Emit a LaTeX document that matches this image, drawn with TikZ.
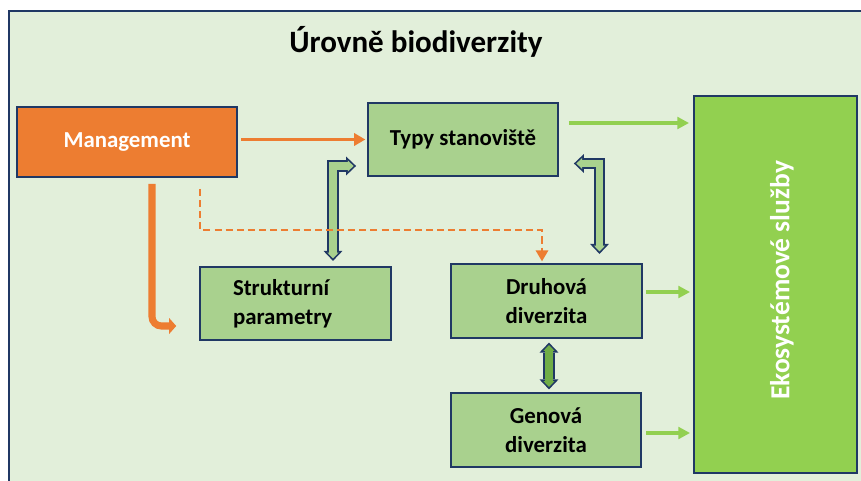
\documentclass[tikz,border=0pt]{standalone}
\usepackage{fontspec}
\setmainfont{Carlito}
\usetikzlibrary{arrows.meta,calc,positioning}

\definecolor{navy}{HTML}{203864}
\definecolor{bgreen}{HTML}{E2EFDA}
\definecolor{lgreen}{HTML}{A9D18E}
\definecolor{dgreen}{HTML}{70AD47}
\definecolor{egreen}{HTML}{92D050}
\definecolor{orng}{HTML}{ED7D31}

\tikzset{
  box/.style={draw=navy, line width=1.6pt, fill=lgreen, minimum width=5.72cm, minimum height=2.2cm,
    align=center, font=\fontsize{19.5}{25}\selectfont\bfseries},
  orangearrow/.style={orng, line width=2.1pt, -{Triangle[length=9.5pt,width=10.5pt]}},
  greenline/.style={egreen, line width=2.8pt, -{Triangle[length=10pt,width=10pt]}},
  bouter/.style={draw=navy, line width=9.4pt, line join=miter,
    {Triangle[length=8.5pt,width=16.2pt,line width=0pt]}-{Triangle[length=8.5pt,width=16.2pt,line width=0pt]}},
  binner/.style={line width=6.5pt, line join=miter, shorten <=2.1pt, shorten >=2.1pt,
    {Triangle[length=4.9pt,width=9.4pt,line width=0pt]}-{Triangle[length=4.9pt,width=9.4pt,line width=0pt]}},
}

\begin{document}
\begin{tikzpicture}[x=0.03cm, y=-0.03cm]
  \useasboundingbox (0,0) rectangle (861,481);

  % ramecek
  \draw[navy, line width=2pt, fill=bgreen] (9,11) rectangle (900,520);
  \node[font=\fontsize{26.5}{31}\selectfont\bfseries] (title) at (416,42) {Úrovně biodiverzity};

  % bloky
  \node[box, fill=orng, text=white, minimum width=6.6cm, minimum height=2.1cm] (mgmt) at (127,142) {Management};
  \node[box, minimum width=5.7cm] (typy) at (463,139.5) {Typy stanoviště};
  \node[box, text width=3.75cm, align=left] (struk) at (295.5,303.5) {Strukturní\\parametry};
  \node[box] (druh) at (546.5,301) {Druhová\\diverzita};
  \node[box] (genova) at (546,430) {Genová\\diverzita};
  \node[box, fill=egreen, minimum width=4.89cm, minimum height=11.31cm,
    label={[xshift=5.5pt, yshift=3.5pt, rotate=90, text=white, font=\fontsize{23.5}{28}\selectfont\bfseries]center:Ekosystémové služby}] (eko) at (775.5,284.5) {};

  % obousmerne sipky
  \draw[bouter] ($(typy.west)+(-11,26.5)$) -| ($(struk.north)+(37.5,-5)$);
  \draw[binner, lgreen] ($(typy.west)+(-11,26.5)$) -| ($(struk.north)+(37.5,-5)$);
  \draw[bouter] ($(typy.east)+(15,24)$) -| ($(druh.north)+(53,-9.5)$);
  \draw[binner, lgreen] ($(typy.east)+(15,24)$) -| ($(druh.north)+(53,-9.5)$);
  \draw[bouter] ($(druh.south)+(2.5,4)$) -- ($(genova.north)+(3,-3)$);
  \draw[binner, dgreen] ($(druh.south)+(2.5,4)$) -- ($(genova.north)+(3,-3)$);

  % management
  \draw[orangearrow, shorten <=3pt, shorten >=1.5pt] (mgmt.east |- typy.west) -- (typy.west);
  \draw[orng, line width=6pt, rounded corners=8pt, -{Triangle[length=6pt,width=13.5pt,line width=0pt]}]
    ($(mgmt.south)+(25,6)$) |- ($(struk.west)+(-23,22.5)$);
  \coordinate (dbend) at (542,230);
  \draw[orangearrow, dash pattern=on 6pt off 3.5pt] ($(mgmt.south)+(73,11)$) |- (dbend) -- ($(dbend |- druh.north)+(0,-2)$);

  % do ekosystemovych sluzeb
  \draw[greenline] ($(typy.east)+(10,-16.5)$) -- ($(eko.west |- typy.east)+(-4,-16.5)$);
  \draw[greenline] ($(druh.east)+(3,-9)$) -- ($(eko.west |- druh.east)+(-3,-9)$);
  \draw[greenline] ($(genova.east)+(4,3)$) -- ($(eko.west |- genova.east)+(-3,3)$);
\end{tikzpicture}
\end{document}
